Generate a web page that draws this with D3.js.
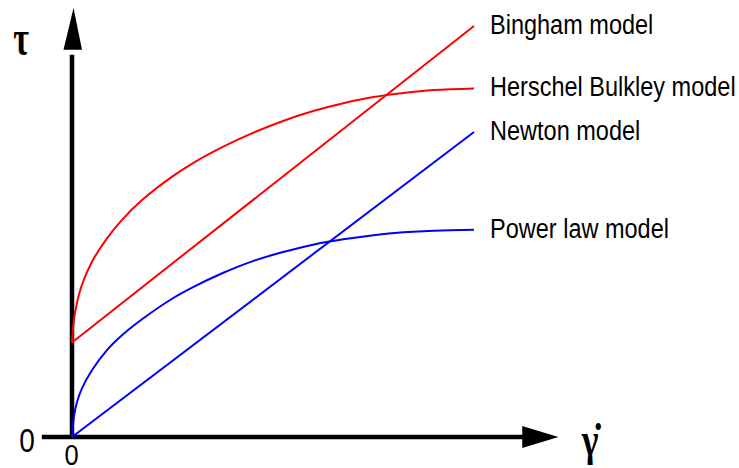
<!DOCTYPE html>
<html>
<head>
<meta charset="utf-8">
<script src="https://cdn.jsdelivr.net/npm/d3@7"></script>
<style>
  body { margin: 0; background: #fff; }
  svg { display: block; }
</style>
</head>
<body>
<div id="chart"></div>
<script>
// shear rate samples (arbitrary units) and stress
const shearRate = [0, 0.05, 0.125, 0.25, 0.5, 0.875, 1.25, 1.75, 2.5, 3, 3.75, 4.5, 5.25, 6, 6.75, 7.5, 8.25, 9, 10];
const herschelBulkley = [2.3, 2.87, 3.27, 3.71, 4.27, 4.84, 5.29, 5.77, 6.34, 6.66, 7.06, 7.4, 7.69, 7.93, 8.12, 8.27, 8.37, 8.44, 8.48];
const powerLaw = [0, 0.51, 0.85, 1.19, 1.63, 2.12, 2.48, 2.87, 3.37, 3.64, 3.99, 4.28, 4.5, 4.68, 4.81, 4.91, 4.98, 5.02, 5.04];
const lineRate = [0, 10];
const bingham = [2.3, 10];
const newton = [0, 7.42];

const modelNames = ["Bingham model", "Herschel Bulkley model", "Newton model", "Power law model"];
const modelColors = ["#ff0000", "#ff0000", "#0000ff", "#0000ff"];

const width = 739, height = 468;

const svg = d3.select("#chart").append("svg")
  .attr("width", width)
  .attr("height", height);

const x = d3.scaleLinear().domain([0, 10]).range([72, 474]);
const y = d3.scaleLinear().domain([0, 10]).range([437, 26]);

const series = [
  { name: modelNames[0], xs: lineRate, ys: bingham },
  { name: modelNames[1], xs: shearRate, ys: herschelBulkley },
  { name: modelNames[2], xs: lineRate, ys: newton },
  { name: modelNames[3], xs: shearRate, ys: powerLaw }
];

// axes with arrow heads
const axes = svg.append("g");
axes.append("line")
  .attr("x1", x(-0.75)).attr("x2", x(11.25))
  .attr("y1", y(0)).attr("y2", y(0))
  .attr("stroke", "#000").attr("stroke-width", 4.5);
axes.append("line")
  .attr("x1", x(0)).attr("x2", x(0))
  .attr("y1", y(0) + 2).attr("y2", y(9.3))
  .attr("stroke", "#000").attr("stroke-width", 4.5);

axes.append("path")
  .attr("d", `M${x(11.2)},${y(0) - 11} L${x(12.1)},${y(0)} L${x(11.2)},${y(0) + 11} Z`)
  .attr("fill", "#000");
axes.append("path")
  .attr("d", `M${x(0) - 8.5},${y(9.42)} L${x(0) + 1.5},${y(10.44)} L${x(0) + 10},${y(9.42)} Z`)
  .attr("fill", "#000");

const line = d3.line()
  .x(d => x(d[0]))
  .y(d => y(d[1]))
  .curve(d3.curveCatmullRom.alpha(0.5));

svg.append("g")
  .selectAll("path")
  .data(series)
  .enter()
  .append("path")
  .attr("d", d => line(d.xs.map((v, i) => [v, d.ys[i]])))
  .attr("fill", "none")
  .attr("stroke", (d, i) => modelColors[i])
  .attr("stroke-width", 2);

// legend texts at the end of each line
svg.append("g")
  .selectAll("text")
  .data(series)
  .enter()
  .append("text")
  .attr("transform", d => `translate(${x(10) + 16},${y(d.ys[d.ys.length - 1]) + 8}) scale(0.84,1)`)
  .attr("font-family", "Liberation Sans, Arial, sans-serif")
  .attr("font-size", 28)
  .attr("fill", "#000")
  .text(d => d.name);

// axis labels
svg.append("text")
  .attr("transform", `translate(21,55) scale(0.85,1.25)`)
  .attr("text-anchor", "middle")
  .attr("font-family", "Liberation Serif, Times New Roman, serif")
  .attr("font-weight", "bold")
  .attr("font-size", 40)
  .text("τ");

svg.append("text")
  .attr("transform", `translate(590,455) scale(0.85,1.1)`)
  .attr("text-anchor", "middle")
  .attr("font-family", "Liberation Serif, Times New Roman, serif")
  .attr("font-weight", "bold")
  .attr("font-size", 42)
  .text("γ\u0307");

svg.append("text")
  .attr("transform", `translate(27,452) scale(0.85,1)`)
  .attr("text-anchor", "middle")
  .attr("font-family", "Liberation Sans, Arial, sans-serif")
  .attr("font-size", 33)
  .text("0");
svg.append("text")
  .attr("transform", `translate(71.5,465) scale(0.85,1)`)
  .attr("text-anchor", "middle")
  .attr("font-family", "Liberation Sans, Arial, sans-serif")
  .attr("font-size", 30)
  .text("0");
</script>
</body>
</html>
